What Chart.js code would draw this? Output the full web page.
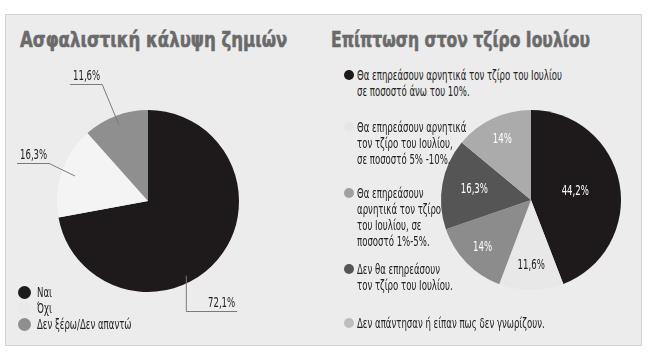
<!DOCTYPE html>
<html>
<head>
<meta charset="utf-8">
<script src="https://cdn.jsdelivr.net/npm/chart.js@4.4.1/dist/chart.umd.min.js"></script>
<style>
  body { margin: 0; width: 653px; height: 359px; background: #fff; position: relative; overflow: hidden; }
  #panel { position: absolute; left: 5px; top: 14px; width: 635px; height: 330px; background: #ececec; border: 1px solid #d2d2d2; }
  .title { position: absolute; font-family: "DejaVu Sans", sans-serif; font-weight: bold; font-size: 21px; color: #6a6a6a; -webkit-text-stroke: 0.6px #6a6a6a; white-space: nowrap; transform-origin: 0 0; line-height: 24px; }
  .leg { position: absolute; font-family: "DejaVu Sans Condensed", sans-serif; font-size: 14px; color: #222; line-height: 16px; white-space: nowrap; transform-origin: 0 0; }
  .dot { position: absolute; border-radius: 50%; }
  canvas { position: absolute; }
</style>
</head>
<body>
<div id="panel"></div>
<div class="title" id="t1">Ασφαλιστική κάλυψη ζημιών</div>
<div class="title" id="t2">Επίπτωση στον τζίρο Ιουλίου</div>
<canvas id="c1" width="320" height="285" style="left:0;top:60px;width:320px;height:285px"></canvas>
<canvas id="c2" width="200" height="200" style="left:430px;top:100px;width:200px;height:200px"></canvas>
<div id="legends"></div>
<script>
const NARROW = '"DejaVu Sans Condensed", sans-serif';

// Ασφαλιστική κάλυψη ζημιών
const coverLabels = ['Ναι', 'Όχι', 'Δεν ξέρω/Δεν απαντώ'];
const coverValues = [72.1, 16.3, 11.6];
const coverColors = ['#1e1a1b', '#f4f4f4', '#8f8f8f'];

// Επίπτωση στον τζίρο Ιουλίου
const impactLabels = [
    ['Θα επηρεάσουν αρνητικά τον τζίρο του Ιουλίου', 'σε ποσοστό άνω του 10%.'],
    ['Θα επηρεάσουν αρνητικά', 'τον τζίρο του Ιουλίου,', 'σε ποσοστό 5% -10%.'],
    ['Θα επηρεάσουν', 'αρνητικά τον τζίρο', 'του Ιουλίου, σε', 'ποσοστό 1%-5%.'],
    ['Δεν θα επηρεάσουν', 'τον τζίρο του Ιουλίου.'],
    ['Δεν απάντησαν ή είπαν πως δεν γνωρίζουν.']
];
const impactValues = [44.2, 11.6, 14, 16.3, 14];
const impactColors = ['#1e1a1b', '#e8e8e8', '#8c8c8c', '#555555', '#ababab'];
const impactLegendDots = ['#1e1a1b', '#e6e6e6', '#a0a0a0', '#555555', '#bdbdbd'];

function pct(v) { return String(v).replace('.', ',') + '%'; }

// the print uses a narrow face: squeeze the condensed one to the same width
const mctx = document.createElement('canvas').getContext('2d');
mctx.font = '14px ' + NARROW;
const SQUEEZE = 205 / mctx.measureText(impactLabels[0][0]).width;

// stretch titles to the width they have in the print
function fit(id, x, y, w) {
    const el = document.getElementById(id);
    el.style.left = x + 'px';
    el.style.top = y + 'px';
    el.style.transform = 'scaleX(' + (w / el.offsetWidth) + ')';
}
fit('t1', 20, 28, 267);
fit('t2', 331, 28, 259);

// legends
const legends = document.getElementById('legends');
function addItem(x, y, size, gap, color, lines) {
    const d = document.createElement('div');
    d.className = 'dot';
    d.style.width = d.style.height = size + 'px';
    d.style.left = (x - size / 2) + 'px';
    d.style.top = (y - size / 2) + 'px';
    d.style.background = color;
    legends.appendChild(d);
    const t = document.createElement('div');
    t.className = 'leg';
    t.style.left = (x + gap) + 'px';
    t.style.top = (y - 8) + 'px';
    t.style.transform = 'scaleX(' + SQUEEZE + ')';
    t.innerHTML = lines.join('<br>');
    legends.appendChild(t);
}
const coverDots = ['#1e1a1b', '#e9e9e9', '#8f8f8f'];
coverLabels.forEach((l, i) => addItem(24, 292 + i * 16, 13, 13, coverDots[i], [l]));
const impactTops = [75, 127, 193, 269, 323];
impactLabels.forEach((l, i) => addItem(349, impactTops[i], 10, 8, impactLegendDots[i], l));

function squeezedText(ctx, txt, x, y, align) {
    const w = ctx.measureText(txt).width * SQUEEZE;
    const left = align === 'center' ? x - w / 2 : x;
    ctx.save();
    ctx.translate(left, y);
    ctx.scale(SQUEEZE, 1);
    ctx.textAlign = 'left';
    ctx.fillText(txt, 0, 0);
    ctx.restore();
    return w;
}

function midPoint(arc, frac, along) {
    const p = arc.getProps(['x', 'y', 'startAngle', 'endAngle', 'outerRadius'], true);
    const a = p.startAngle + (p.endAngle - p.startAngle) * along;
    return { x: p.x + Math.cos(a) * p.outerRadius * frac, y: p.y + Math.sin(a) * p.outerRadius * frac, cx: p.x, cy: p.y };
}

// labels outside the pie with leader lines
const leaderPlugin = {
    id: 'leaders',
    afterDatasetsDraw(chart, args, opts) {
        const ctx = chart.ctx;
        const meta = chart.getDatasetMeta(0);
        ctx.save();
        ctx.font = '14px ' + NARROW;
        ctx.textBaseline = 'alphabetic';
        ctx.strokeStyle = '#7a7a7a';
        ctx.lineWidth = 1;
        opts.spec.forEach((s, i) => {
            const m = midPoint(meta.data[i], s.frac, s.along);
            const txt = pct(chart.data.datasets[0].data[i]);
            const tx = m.cx + s.dx, ty = m.cy + s.dy;
            ctx.fillStyle = '#1e1e1e';
            const w = squeezedText(ctx, txt, tx, ty, 'left');
            ctx.beginPath();
            if (s.elbow) {
                ctx.moveTo(m.x + 0.5, m.y);
                ctx.lineTo(m.x + 0.5, ty + 4.5);
                ctx.lineTo(tx + w + 2, ty + 4.5);
            } else {
                ctx.moveTo(tx - 3, ty + 4.5);
                ctx.lineTo(tx + w + 2, ty + 4.5);
                ctx.lineTo(m.x, m.y);
            }
            ctx.stroke();
        });
        ctx.restore();
    }
};

// labels inside the slices
const innerPlugin = {
    id: 'inner',
    afterDatasetsDraw(chart, args, opts) {
        const ctx = chart.ctx;
        const meta = chart.getDatasetMeta(0);
        ctx.save();
        ctx.font = '14px ' + NARROW;
        ctx.textBaseline = 'middle';
        meta.data.forEach((arc, i) => {
            const m = midPoint(arc, opts.frac[i], 0.5);
            ctx.fillStyle = opts.colors[i];
            squeezedText(ctx, pct(chart.data.datasets[0].data[i]), m.x, m.y, 'center');
        });
        ctx.restore();
    }
};

const baseOptions = {
    responsive: false,
    animation: false,
    events: [],
    plugins: { legend: { display: false }, tooltip: { enabled: false } }
};

new Chart(document.getElementById('c1'), {
    type: 'pie',
    data: {
        labels: coverLabels,
        datasets: [{ data: coverValues, backgroundColor: coverColors, borderWidth: 0, hoverOffset: 0, offset: 0 }]
    },
    options: {
        ...baseOptions,
        layout: { padding: { left: 57, top: 50, right: 81, bottom: 53 } },
        plugins: {
            ...baseOptions.plugins,
            leaders: {
                spec: [
                    { frac: 0.92, along: 0.59, dx: 60, dy: 106, elbow: true },
                    { frac: 0.85, along: 0.5, dx: -128, dy: -42 },
                    { frac: 0.9, along: 0.5, dx: -75, dy: -121 }
                ]
            }
        }
    },
    plugins: [leaderPlugin]
});

new Chart(document.getElementById('c2'), {
    type: 'pie',
    data: {
        labels: impactLabels,
        datasets: [{ data: impactValues, backgroundColor: impactColors, borderWidth: 0, hoverOffset: 0, offset: 0 }]
    },
    options: {
        ...baseOptions,
        layout: { padding: { left: 11, top: 10, right: 9, bottom: 10 } },
        plugins: {
            ...baseOptions.plugins,
            inner: {
                frac: [0.5, 0.73, 0.75, 0.64, 0.75],
                colors: ['#ffffff', '#1e1e1e', '#ffffff', '#ffffff', '#ffffff']
            }
        }
    },
    plugins: [innerPlugin]
});
</script>
</body>
</html>
